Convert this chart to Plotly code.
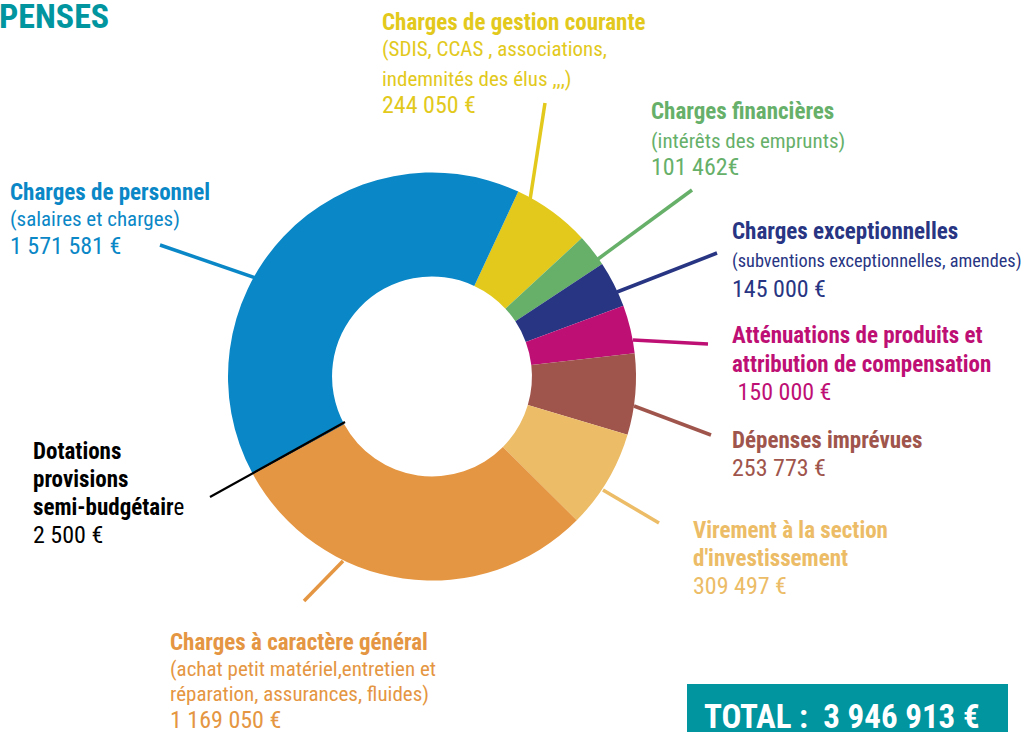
import plotly.graph_objects as go

W, H = 1028, 732

# ---- data ----
categories = [
    "Charges de gestion courante",
    "Charges financières",
    "Charges exceptionnelles",
    "Atténuations de produits et attribution de compensation",
    "Dépenses imprévues",
    "Virement à la section d'investissement",
    "Charges à caractère général",
    "Dotations provisions semi-budgétaire",
    "Charges de personnel",
]
values = [244050, 101462, 145000, 150000, 253773, 309497, 1169050, 2500, 1571581]
colors = ["#E2C91C", "#66B06A", "#283583", "#BE0F75", "#A0554C",
          "#ECBC66", "#E59642", "#000000", "#0A87C6"]

# label blocks: lines and style kind (b = bold heading, d = description, v = value)
label_lines = [
    ["Charges de gestion courante", "(SDIS, CCAS , associations,", "indemnités des élus ,,,)", "244 050 €"],
    ["Charges financières", "(intérêts des emprunts)", "101 462€"],
    ["Charges exceptionnelles", "(subventions exceptionnelles, amendes)", "145 000 €"],
    ["Atténuations de produits et", "attribution de compensation", " 150 000 €"],
    ["Dépenses imprévues", "253 773 €"],
    ["Virement à la section", "d'investissement", "309 497 €"],
    ["Charges à caractère général", "(achat petit matériel,entretien et", "réparation, assurances, fluides)", "1 169 050 €"],
    ["Dotations", "provisions", "semi-budgétair", "2 500 €"],
    ["Charges de personnel", "(salaires et charges)", "1 571 581 €"],
]
label_kind = [
    ["b", "d", "d", "v"],
    ["b", "d", "v"],
    ["b", "ds", "v"],
    ["b", "b", "v"],
    ["b", "v"],
    ["b", "b", "v"],
    ["b", "d", "d", "v"],
    ["b", "b", "b", "v"],
    ["b", "d", "v"],
]
total_text = "TOTAL :  3 946 913 €"
title_text = "PENSES"

# ---- layout (pixels) ----
label_x = [380, 649, 730, 730, 730, 691, 168, 31, 8]
label_y = [
    [23, 49, 79, 105],
    [112, 141, 167],
    [231, 261, 289],
    [335, 364, 392],
    [440, 468],
    [530, 558, 586],
    [642, 669, 694, 720],
    [451, 479, 507, 535],
    [192, 219, 246],
]
leaders = [
    ((545, 103), (530, 200), 3.5),
    ((692, 190), (598, 259), 3.5),
    ((717, 253), (617, 292), 3.5),
    ((708, 344), (633, 340), 3.5),
    ((711, 435), (634, 406), 3.5),
    ((659, 523), (603, 490), 3.5),
    ((304, 601), (343, 561), 3.5),
    ((210, 497), (345, 422), 2.2),
    ((160, 245), (256, 278), 3.5),
]
sizes = {"b": 23, "d": 21, "ds": 18.3, "v": 24}

FONT = "Liberation Sans Narrow, Roboto Condensed, Arial Narrow, Roboto, sans-serif"

def px(x):
    return x / W

def py(y):
    return 1 - y / H

cx, cy, r = 432, 376.5, 204

fig = go.Figure(go.Pie(
    labels=categories,
    values=values,
    marker=dict(colors=colors, line=dict(width=0)),
    hole=0.49,
    sort=False,
    direction="clockwise",
    rotation=25,
    textinfo="none",
    hoverinfo="label+value",
    domain=dict(x=[px(cx - r), px(cx + r)], y=[py(cy + r), py(cy - r)]),
    showlegend=False,
))

annotations = []
shapes = []
for i, lines in enumerate(label_lines):
    col = colors[i]
    for j, line in enumerate(lines):
        k = label_kind[i][j]
        txt = f"<b>{line}</b>" if k == "b" else line
        if i == 7 and j == 2:
            txt = f"<b>{line}</b>e"
        annotations.append(dict(
            x=px(label_x[i]), y=py(label_y[i][j]), xref="paper", yref="paper",
            xanchor="left", yanchor="middle", showarrow=False, text=txt,
            font=dict(family=FONT, size=sizes[k], color=col),
        ))
    (x0, y0), (x1, y1), w = leaders[i]
    shapes.append(dict(type="line", xref="paper", yref="paper",
                       x0=px(x0), y0=py(y0), x1=px(x1), y1=py(y1),
                       line=dict(color=col, width=w)))

# title
annotations.append(dict(x=px(-3), y=py(16), xref="paper", yref="paper",
                        xanchor="left", yanchor="middle", showarrow=False,
                        text=f"<b>{title_text}</b>",
                        font=dict(family=FONT, size=34, color="#00959F")))
# total box
shapes.append(dict(type="rect", xref="paper", yref="paper",
                   x0=px(687), x1=px(1008), y0=py(732), y1=py(684),
                   fillcolor="#00959F", line=dict(width=0), layer="below"))
annotations.append(dict(x=px(702), y=py(716), xref="paper", yref="paper",
                        xanchor="left", yanchor="middle", showarrow=False,
                        text=f"<b>{total_text}</b>",
                        font=dict(family=FONT, size=33, color="white")))

fig.update_layout(
    width=W, height=H,
    margin=dict(l=0, r=0, t=0, b=0),
    paper_bgcolor="white", plot_bgcolor="white",
    annotations=annotations, shapes=shapes,
)

fig.write_html("out.html", config={"displayModeBar": False},
               post_script="document.body.style.margin='0px';document.body.style.overflow='hidden';")
